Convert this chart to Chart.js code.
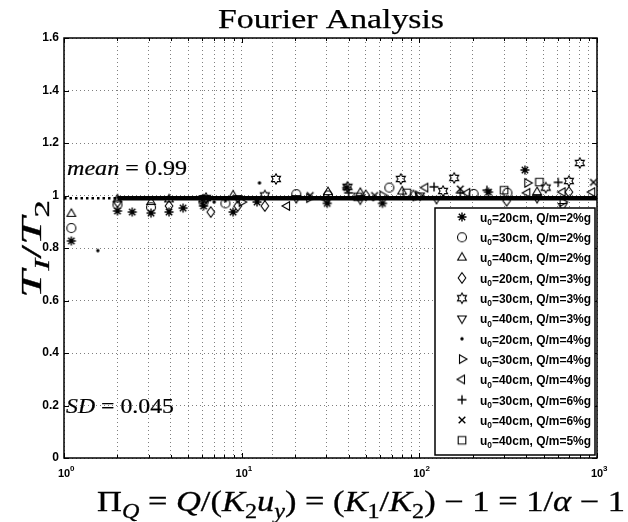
<!DOCTYPE html>
<html>
<head>
<meta charset="utf-8">
<title>Fourier Analysis</title>
<script src="https://cdn.jsdelivr.net/npm/chart.js@4.4.0/dist/chart.umd.min.js"></script>
<style>
  html, body { margin: 0; padding: 0; background: #fff; }
</style>
</head>
<body>
<canvas id="chart" width="628" height="522"></canvas>
<script>
"use strict";

// legend text: u0 and Q/m for each run
let speeds = ['20cm', '30cm', '40cm', '20cm', '30cm', '40cm', '20cm', '30cm', '40cm', '30cm', '40cm', '40cm'];
let loads = ['2%g', '2%g', '2%g', '3%g', '3%g', '3%g', '4%g', '4%g', '4%g', '6%g', '6%g', '5%g'];

// Pi_Q values and T1/T2 ratios, one pair of arrays per run
let x20cm2 = [1.1, 2.0, 2.42, 3.09, 3.9, 4.68, 6.1, 8.95, 12.2, 30.3, 39, 62, 245, 393];
let y20cm2 = [0.827, 0.941, 0.937, 0.933, 0.937, 0.952, 0.96, 0.937, 0.975, 0.97, 1.03, 0.97, 1.013, 1.097];
let x30cm2 = [1.1, 2.0, 3.09, 6.1, 8.1, 20.3, 30.6, 67.8, 202, 313];
let y30cm2 = [0.876, 0.965, 0.955, 0.975, 0.97, 1.005, 1.0, 1.03, 1.006, 1.01];
let x40cm2 = [1.1, 2.0, 3.09, 3.9, 6.1, 8.95, 30.6, 46.5, 80, 460];
let y40cm2 = [0.93, 0.985, 0.975, 0.985, 0.985, 1.0, 1.013, 1.01, 1.015, 1.013];
let x20cm3 = [2.0, 3.9, 6.7, 9.5, 13.5, 50, 92.6, 310, 695];
let y20cm3 = [0.975, 0.96, 0.937, 0.96, 0.96, 1.0, 1.0, 0.98, 1.013];
let x30cm3 = [6.3, 13.5, 15.6, 39.4, 78.6, 136, 157, 515, 695, 800];
let y30cm3 = [0.99, 1.0, 1.063, 1.033, 1.063, 1.017, 1.067, 1.03, 1.055, 1.124];
let x40cm3 = [6.1, 9.5, 20.3, 46.5, 101, 125, 460, 640];
let y40cm3 = [0.99, 0.99, 0.99, 0.985, 1.0, 0.987, 0.99, 0.96];
let x20cm4 = [1.55, 6.0, 7.0, 8.1, 12.6, 25, 55];
let y20cm4 = [0.79, 0.97, 0.975, 0.98, 1.048, 0.99, 0.985];
let x30cm4 = [10, 24, 62, 98.6, 405, 640];
let y30cm4 = [0.975, 0.99, 1.0, 1.0, 1.048, 0.975];
let x40cm4 = [18, 30, 108, 186, 405, 640, 940];
let y40cm4 = [0.96, 0.985, 1.03, 1.01, 1.01, 1.013, 1.013];
let x30cm6 = [40, 121, 170, 240, 605];
let y30cm6 = [1.01, 1.033, 1.01, 1.02, 1.05];
let x40cm6 = [24.3, 56, 170, 955];
let y40cm6 = [1.0, 1.0, 1.025, 1.05];
let x40cm5 = [45, 85, 300, 474];
let y40cm5 = [0.995, 1.01, 1.02, 1.051];

let seriesX = [x20cm2, x30cm2, x40cm2, x20cm3, x30cm3, x40cm3, x20cm4, x30cm4, x40cm4, x30cm6, x40cm6, x40cm5];
let seriesY = [y20cm2, y30cm2, y40cm2, y20cm3, y30cm3, y40cm3, y20cm4, y30cm4, y40cm4, y30cm6, y40cm6, y40cm5];

let meanValue = 0.99;
let sdValue = 0.045;
let dottedUntil = 2;
let yTicks = [0, 0.2, 0.4, 0.6, 0.8, 1, 1.2, 1.4, 1.6];
let decades = [1, 10, 100, 1000];

let markerKinds = ['asterisk', 'circle', 'triangleUp', 'diamond', 'hexagram', 'triangleDown',
  'dot', 'triangleRight', 'triangleLeft', 'plus', 'cross', 'square'];

let sansFont = '"Liberation Sans", Arial, sans-serif';
let serifFont = '"Liberation Serif", "Times New Roman", serif';

function triangle(g, c, r, angle) {
  for (let k = 0; k < 3; k++) {
    let a = (angle + k * 120) * Math.PI / 180;
    let px = c + r * Math.cos(a);
    let py = c + r * Math.sin(a);
    if (k === 0) g.moveTo(px, py); else g.lineTo(px, py);
  }
  g.closePath();
}

function makeMarker(kind) {
  let size = 16, c = size / 2, r = 4.5;
  let cv = document.createElement('canvas');
  cv.width = size;
  cv.height = size;
  let g = cv.getContext('2d');
  g.strokeStyle = '#000';
  g.fillStyle = '#000';
  g.lineWidth = 1.1;
  g.beginPath();
  switch (kind) {
    case 'circle':
      g.arc(c, c, r, 0, Math.PI * 2);
      break;
    case 'square':
      g.rect(c - 3.8, c - 3.8, 7.6, 7.6);
      break;
    case 'diamond':
      g.moveTo(c, c - 5.2); g.lineTo(c + 3.8, c); g.lineTo(c, c + 5.2); g.lineTo(c - 3.8, c);
      g.closePath();
      break;
    case 'triangleUp': triangle(g, c, 5, -90); break;
    case 'triangleDown': triangle(g, c, 5, 90); break;
    case 'triangleRight': triangle(g, c, 5, 0); break;
    case 'triangleLeft': triangle(g, c, 5, 180); break;
    case 'hexagram':
      for (let k = 0; k < 12; k++) {
        let rr = k % 2 === 0 ? 5.2 : 3;
        let a = (-90 + k * 30) * Math.PI / 180;
        if (k === 0) g.moveTo(c + rr * Math.cos(a), c + rr * Math.sin(a));
        else g.lineTo(c + rr * Math.cos(a), c + rr * Math.sin(a));
      }
      g.closePath();
      break;
    case 'asterisk':
      for (let k = 0; k < 4; k++) {
        let a = k * Math.PI / 4;
        g.moveTo(c - r * Math.cos(a), c - r * Math.sin(a));
        g.lineTo(c + r * Math.cos(a), c + r * Math.sin(a));
      }
      g.lineWidth = 1.4;
      break;
    case 'plus':
      g.moveTo(c - r, c); g.lineTo(c + r, c);
      g.moveTo(c, c - r); g.lineTo(c, c + r);
      g.lineWidth = 1.4;
      break;
    case 'cross':
      g.moveTo(c - 3.3, c - 3.3); g.lineTo(c + 3.3, c + 3.3);
      g.moveTo(c - 3.3, c + 3.3); g.lineTo(c + 3.3, c - 3.3);
      g.lineWidth = 1.4;
      break;
    case 'dot':
      g.arc(c, c, 1.7, 0, Math.PI * 2);
      g.fill();
      return cv;
  }
  g.stroke();
  return cv;
}

let markers = markerKinds.map(makeMarker);

// mixed upright / italic / sub / superscript text
function fontFor(p, size, family) {
  let s = (p.sub || p.sup) ? size * 0.7 : size;
  return (p.it ? 'italic ' : '') + (p.bold ? 'bold ' : '') + s.toFixed(2) + 'px ' + family;
}

function richWidth(ctx, parts, size, family) {
  let w = 0;
  parts.forEach(p => {
    ctx.font = fontFor(p, size, family);
    w += ctx.measureText(p.t).width;
  });
  return w;
}

function drawRich(ctx, parts, x, y, size, family, outline) {
  ctx.textAlign = 'left';
  ctx.textBaseline = 'alphabetic';
  let cx = x;
  parts.forEach(p => {
    ctx.font = fontFor(p, size, family);
    let dy = p.sub ? size * 0.25 : (p.sup ? -size * 0.42 : 0);
    ctx.fillText(p.t, cx, y + dy);
    if (outline) ctx.strokeText(p.t, cx, y + dy);
    cx += ctx.measureText(p.t).width;
  });
}

// draw at a fixed size, stretched sideways to span the given width
function drawStretched(ctx, parts, x, y, size, family, width, outline) {
  let w = richWidth(ctx, parts, size, family);
  ctx.save();
  ctx.translate(x, y);
  ctx.scale(width / w, 1);
  ctx.lineWidth = outline || 0;
  drawRich(ctx, parts, 0, 0, size, family, !!outline);
  ctx.restore();
}

let xTitle = [
  {t: 'Π'}, {t: 'Q', it: true, sub: true}, {t: ' = '}, {t: 'Q', it: true}, {t: '/('},
  {t: 'K', it: true}, {t: '2', sub: true}, {t: 'u', it: true}, {t: 'y', it: true, sub: true},
  {t: ') = ('}, {t: 'K', it: true}, {t: '1', sub: true}, {t: '/'}, {t: 'K', it: true},
  {t: '2', sub: true}, {t: ') − 1 = 1/'}, {t: 'α', it: true}, {t: ' − 1'}
];
let yTitle = [{t: 'T', it: true}, {t: 'I', it: true, sub: true}, {t: '/'}, {t: 'T', it: true}, {t: '2', sub: true}];
let meanText = [{t: 'mean', it: true}, {t: ' = ' + meanValue}];
let sdText = [{t: 'SD', it: true}, {t: ' = ' + sdValue}];
let titleText = [{t: 'Fourier Analysis'}];

let decorations = {
  id: 'decorations',
  afterDraw(chart) {
    let ctx = chart.ctx;
    let a = chart.chartArea;
    let xs = chart.scales.x;
    let ys = chart.scales.y;
    ctx.save();
    ctx.fillStyle = '#000';
    ctx.strokeStyle = '#000';

    // axes box
    ctx.lineWidth = 1.5;
    ctx.strokeRect(a.left, a.top, a.right - a.left, a.bottom - a.top);

    // inward tick marks
    ctx.lineWidth = 1;
    ctx.beginPath();
    yTicks.forEach(v => {
      let py = Math.round(ys.getPixelForValue(v)) + 0.5;
      ctx.moveTo(a.left, py); ctx.lineTo(a.left + 5, py);
      ctx.moveTo(a.right, py); ctx.lineTo(a.right - 5, py);
    });
    decades.forEach((d, i) => {
      for (let m = 1; m <= 9; m++) {
        if (i === decades.length - 1 && m > 1) break;
        let px = Math.round(xs.getPixelForValue(d * m)) + 0.5;
        let len = m === 1 ? 5 : 3;
        ctx.moveTo(px, a.bottom); ctx.lineTo(px, a.bottom - len);
        ctx.moveTo(px, a.top); ctx.lineTo(px, a.top + len);
      }
    });
    ctx.stroke();

    // decade labels 10^n
    decades.forEach((d, i) => {
      let px = xs.getPixelForValue(d);
      ctx.font = 'bold 11px ' + sansFont;
      ctx.textAlign = 'center';
      ctx.textBaseline = 'alphabetic';
      ctx.fillText('10', px, a.bottom + 19);
      let w = ctx.measureText('10').width;
      ctx.font = 'bold 8px ' + sansFont;
      ctx.textAlign = 'left';
      ctx.fillText(String(i), px + w / 2, a.bottom + 13);
    });

    // title
    drawStretched(ctx, titleText, 218, 28, 27, serifFont, 226, 0.25);

    // axis titles
    drawStretched(ctx, xTitle, 97, 511, 29, serifFont, 528, 0.3);
    let yW = 98;
    ctx.save();
    ctx.translate(41, 249);
    ctx.rotate(-Math.PI / 2);
    drawStretched(ctx, yTitle, -yW / 2, 0, 30, serifFont, yW, 0.3);
    ctx.restore();

    // statistics
    drawStretched(ctx, meanText, 67, 175, 20, serifFont, 120, 0.2);
    drawStretched(ctx, sdText, 66, 413, 20, serifFont, 108, 0.2);

    // legend
    let box = {left: 435, top: 208, right: 595, bottom: 455};
    ctx.fillStyle = '#fff';
    ctx.fillRect(box.left, box.top, box.right - box.left, box.bottom - box.top);
    ctx.fillStyle = '#000';
    ctx.lineWidth = 1.5;
    ctx.strokeRect(box.left, box.top, box.right - box.left, box.bottom - box.top);
    let rowParts = i => [{t: 'u', bold: true}, {t: '0', bold: true, sub: true},
      {t: '=' + speeds[i] + ', Q/m=' + loads[i], bold: true}];
    for (let i = 0; i < speeds.length; i++) {
      let ry = 217 + i * 20.3;
      let m = markers[i];
      ctx.drawImage(m, 462 - m.width / 2, ry - m.height / 2);
      drawStretched(ctx, rowParts(i), 480, ry + 4.8, 13.5, sansFont, 111);
    }
    ctx.restore();
  }
};

let datasets = [
  {
    label: 'mean',
    data: [{x: dottedUntil, y: meanValue}, {x: 1000, y: meanValue}],
    showLine: true, borderColor: '#000', borderWidth: 4.5, pointRadius: 0, order: 0
  },
  {
    label: 'mean (extended)',
    data: [{x: 1, y: meanValue}, {x: dottedUntil, y: meanValue}],
    showLine: true, borderColor: '#000', borderWidth: 2.5, borderDash: [2.5, 3],
    pointRadius: 0, order: 0
  }
];

for (let i = 0; i < seriesX.length; i++) {
  datasets.push({
    label: 'u0=' + speeds[i] + ', Q/m=' + loads[i],
    data: seriesX[i].map((x, j) => ({x: x, y: seriesY[i][j]})),
    pointStyle: markers[i],
    pointRadius: 4,
    order: 1
  });
}

let chart = new Chart(document.getElementById('chart'), {
  type: 'scatter',
  data: {datasets: datasets},
  options: {
    responsive: false,
    animation: false,
    devicePixelRatio: 1,
    layout: {padding: {top: 38, right: 31, left: 0, bottom: 0}},
    plugins: {
      legend: {display: false},
      tooltip: {enabled: false},
      title: {display: false}
    },
    scales: {
      x: {
        type: 'logarithmic',
        min: 1,
        max: 1000,
        border: {display: false, dash: [1, 3]},
        grid: {color: 'rgba(0,0,0,0.5)', lineWidth: 1, drawTicks: false},
        ticks: {autoSkip: false, maxRotation: 0, callback: () => ''},
        afterFit: s => { s.height = 64; }
      },
      y: {
        min: 0,
        max: 1.6,
        border: {display: false, dash: [1, 3]},
        grid: {color: 'rgba(0,0,0,0.5)', lineWidth: 1, drawTicks: false},
        ticks: {
          stepSize: 0.2,
          padding: 5,
          color: '#000',
          font: {family: sansFont, size: 12, weight: 'bold'},
          callback: v => String(Number(v.toFixed(1)))
        },
        afterFit: s => { s.width = 64; }
      }
    }
  },
  plugins: [decorations]
});
</script>
</body>
</html>
